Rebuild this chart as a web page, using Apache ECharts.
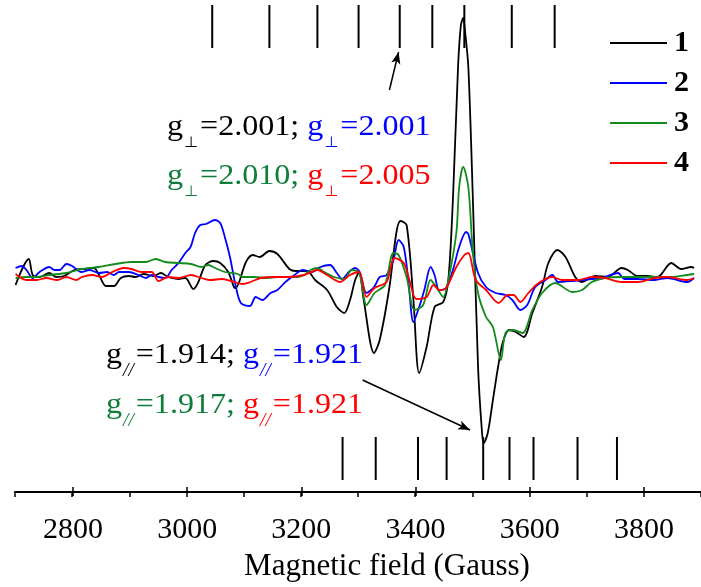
<!DOCTYPE html>
<html><head><meta charset="utf-8">
<script src="https://cdn.jsdelivr.net/npm/echarts@6/dist/echarts.min.js"></script>
<style>html,body{margin:0;padding:0;background:#fff}#c{width:701px;height:587px}</style>
</head><body><div id="c"></div><script>
// Field (Gauss) vs. derivative intensity (arbitrary units)
const sample1 = [[2701,-13],[2724,13],[2731,-3],[2743,-5],[2760,-1],[2772,-5],[2786,-4],[2804,2],[2821,3],[2838,4],[2847,-3],[2859,-14],[2873,-14],[2885,-6],[2899,-4],[2911,-5],[2925,-2],[2942,-4],[2955,-1],[2968,-5],[2986,-7],[2998,-6],[3012,-17],[3020,-11],[3033,7],[3047,11],[3059,9],[3073,0],[3083,-15],[3086,-16],[3104,10],[3116,17],[3128,15],[3145,21],[3159,18],[3180,3],[3191,1],[3211,1],[3225,-8],[3246,-18],[3263,-35],[3276,-41],[3286,-28],[3295,-8],[3302,0],[3310,-28],[3328,-81],[3338,-68],[3355,-15],[3367,39],[3374,51],[3385,47],[3397,-28],[3407,-101],[3420,-75],[3434,-35],[3449,-30],[3458,-8],[3466,72],[3475,205],[3480,247],[3484,254],[3487,242],[3493,205],[3501,72],[3510,-95],[3517,-161],[3520,-171],[3527,-161],[3536,-128],[3545,-95],[3553,-71],[3564,-58],[3576,-60],[3590,-65],[3605,-41],[3622,-15],[3633,9],[3649,22],[3663,15],[3680,-5],[3692,-10],[3715,-4],[3737,-5],[3761,4],[3772,2],[3789,-4],[3806,-4],[3824,-5],[3848,9],[3865,3],[3883,5],[3888,4]];
const sample2 = [[2701,4],[2712,6],[2720,2],[2731,-6],[2743,0],[2760,5],[2769,2],[2778,2],[2790,8],[2800,6],[2816,0],[2830,2],[2847,-1],[2861,0],[2873,-3],[2882,0],[2899,0],[2916,-3],[2929,-6],[2939,-3],[2951,-5],[2963,-6],[2974,2],[2986,9],[2998,19],[3007,25],[3015,39],[3024,47],[3034,48],[3050,52],[3059,49],[3067,35],[3076,15],[3085,-11],[3095,-31],[3111,-34],[3121,-25],[3133,-28],[3147,-21],[3159,-18],[3173,-10],[3189,-3],[3203,2],[3220,0],[3234,5],[3251,7],[3263,-1],[3272,-7],[3284,0],[3295,4],[3303,0],[3315,-21],[3328,-15],[3338,-5],[3350,-3],[3362,12],[3371,32],[3380,25],[3388,-8],[3397,-50],[3407,-35],[3416,-18],[3427,5],[3434,-3],[3442,-18],[3454,-16],[3466,2],[3477,25],[3489,40],[3493,38],[3510,-1],[3524,-15],[3541,-21],[3558,-23],[3570,-28],[3584,-38],[3596,-33],[3610,-15],[3628,-8],[3640,-3],[3650,-10],[3675,-9],[3709,-7],[3727,-6],[3755,-1],[3766,-7],[3789,-7],[3819,-8],[3841,-6],[3876,-10],[3888,-6]];
const sample3 = [[2701,-6],[2720,-5],[2738,-5],[2760,-3],[2790,-1],[2817,3],[2847,5],[2876,8],[2904,10],[2929,10],[2946,13],[2963,10],[2986,9],[3008,8],[3026,5],[3038,7],[3050,4],[3067,0],[3090,-2],[3098,-5],[3119,-5],[3137,-6],[3159,-5],[3180,-5],[3194,-5],[3206,-3],[3217,2],[3229,4],[3241,0],[3258,-5],[3276,-7],[3289,2],[3302,-1],[3315,-33],[3329,-21],[3347,-13],[3362,19],[3371,17],[3385,-5],[3399,-38],[3414,-33],[3427,-8],[3437,-15],[3449,-25],[3458,-8],[3472,39],[3477,85],[3484,105],[3493,85],[3501,19],[3510,-21],[3524,-45],[3536,-55],[3550,-88],[3558,-61],[3572,-58],[3588,-61],[3605,-38],[3622,-21],[3645,-11],[3675,-20],[3692,-18],[3709,-10],[3732,-6],[3761,-5],[3789,-5],[3819,-5],[3848,-5],[3876,-3],[3888,-2]];
const sample4 = [[2701,-2],[2720,-8],[2738,-8],[2755,-6],[2774,-8],[2790,-5],[2807,-8],[2817,-5],[2835,-3],[2852,-5],[2870,0],[2890,4],[2904,3],[2921,0],[2939,0],[2951,-9],[2968,-5],[2986,-6],[3008,-3],[3026,-6],[3043,-8],[3061,-7],[3078,-9],[3098,-12],[3112,-10],[3130,-6],[3154,-5],[3177,-5],[3206,-3],[3229,2],[3246,-3],[3269,-10],[3286,-3],[3302,0],[3315,-25],[3329,-16],[3350,-10],[3364,14],[3380,9],[3390,-8],[3402,-27],[3420,-25],[3432,-13],[3442,-18],[3454,-16],[3472,5],[3486,17],[3493,19],[3506,-8],[3524,-18],[3546,-31],[3562,-23],[3572,-23],[3584,-30],[3598,-21],[3616,-11],[3640,-5],[3657,-8],[3685,-8],[3709,-5],[3732,-6],[3761,-10],[3789,-10],[3819,-6],[3841,-5],[3876,-8],[3888,-6]];

// hyperfine stick positions (Gauss)
const perpSticks = [3045,3145,3229,3301,3373,3430,3486,3569,3644];
const parSticks = [3273,3331,3405,3455,3519,3565,3607,3684,3753];

const seriesNames = ['1','2','3','4'];
const lineColors = ['#000000','#0000ff','#138a1c','#ff0000'];
const textColors = ['#000000','#0000ff','#0f7d3a','#ff0000'];
const gPerp = ['2.001','2.001','2.010','2.005'];
const gPar = ['1.914','1.921','1.917','1.921'];

const chart = echarts.init(document.getElementById('c'), null, {renderer:'canvas'});

const cv = document.createElement('canvas').getContext('2d');
const MAINFONT = '30px "Liberation Serif"';
const SX = 1.07;
function tw(t, font){ cv.font = font; return cv.measureText(t).width; }

function buildLine(x0, base, kind, idxA, idxB, vals){
  const els = [];
  let x = x0;
  const subFont = kind === 'perp' ? '15px "DejaVu Sans"' : 'italic 18px "Liberation Serif"';
  const subText = kind === 'perp' ? '\u22A5' : '//';
  const subY = base + 6;
  function put(t, font, color, y){
    els.push({type:'text', x:x, y:y, scaleX:SX, silent:true,
      style:{text:t, font:font, fill:color, textAlign:'left', textVerticalAlign:'middle', align:'left', verticalAlign:'middle'}});
    x += tw(t, font) * SX;
  }
  [idxA, idxB].forEach((ci, k) => {
    const c = textColors[ci];
    put('g', MAINFONT, c, base - 10);
    x += 1;
    put(subText, subFont, c, subY);
    x += 2;
    put('=' + vals[ci] + (k === 0 ? '; ' : ''), MAINFONT, c, base - 10);
  });
  return els;
}

const graphics = []
  .concat(buildLine(167, 137, 'perp', 0, 1, gPerp))
  .concat(buildLine(167, 186, 'perp', 2, 3, gPerp))
  .concat(buildLine(106, 365, 'par', 0, 1, gPar))
  .concat(buildLine(106, 415, 'par', 2, 3, gPar));

const lineSeries = [sample1, sample2, sample3, sample4].map((d, i) => ({
  name: seriesNames[i], type:'line', data:d, xAxisIndex:0, yAxisIndex:0,
  symbol:'none', showSymbol:false, smooth:0.3, lineStyle:{color:lineColors[i], width:1.8}, itemStyle:{color:lineColors[i]},
  z: 3 + i
}));

lineSeries[0].markLine = {
  silent:true, symbol:['none','arrow'], symbolSize:[7,12], animation:false,
  lineStyle:{color:'#000', width:1.5, type:'solid'}, label:{show:false},
  emphasis:{disabled:true},
  data:[
    [{coord:[3355,182]},{coord:[3371,220]}],
    [{coord:[3308,-108]},{coord:[3496,-158]}]
  ]
};

const stickData = perpSticks.map(v => [v, 267, 224]).concat(parSticks.map(v => [v, -165, -208]));

const option = {
  animation:false,
  backgroundColor:'#fff',
  grid:[
    {left:15, top:0, width:692, height:492},
    {left:73, top:0, width:634, height:492}
  ],
  xAxis:[
    {gridIndex:0, type:'value', min:2700, max:3900, interval:100,
     axisLine:{show:true, onZero:false, lineStyle:{color:'#000', width:2}},
     axisTick:{show:true, length:5, lineStyle:{color:'#000', width:1.5}},
     axisLabel:{show:false}, splitLine:{show:false}},
    {gridIndex:1, type:'value', min:2800, max:3900, interval:200,
     axisLine:{show:false, onZero:false},
     axisTick:{show:true, length:9, lineStyle:{color:'#000', width:1.5}},
     axisLabel:{show:true, margin:28, color:'#000', fontSize:30, fontFamily:'Liberation Serif',
       showMaxLabel:false, formatter: v => (v % 200 === 0 && v < 3900) ? String(v) : ''},
     splitLine:{show:false},
     name:'Magnetic field (Gauss)', nameLocation:'middle', nameGap:64,
     nameTextStyle:{color:'#000', fontSize:31, fontFamily:'Liberation Serif'}}
  ],
  yAxis:[
    {gridIndex:0, type:'value', min:-220, max:272, show:false},
    {gridIndex:1, type:'value', min:-220, max:272, show:false}
  ],
  legend:{
    data:seriesNames, orient:'vertical', left:610, top:28, padding:0,
    icon:'rect', itemWidth:57, itemHeight:2, itemGap:10,
    textStyle:{fontFamily:'Liberation Serif', fontWeight:'bold', fontSize:30, lineHeight:30, color:'#000', padding:[0,0,0,2]}
  },
  series: lineSeries.concat([{
    type:'custom', xAxisIndex:0, yAxisIndex:0, data:stickData, silent:true, z:2,
    renderItem:(params, api) => {
      const a = api.coord([api.value(0), api.value(1)]);
      const b = api.coord([api.value(0), api.value(2)]);
      return {type:'line', shape:{x1:a[0], y1:a[1], x2:b[0], y2:b[1]}, style:{stroke:'#000', lineWidth:2}};
    }
  }]),
  graphic: graphics
};
chart.setOption(option);
</script></body></html>
